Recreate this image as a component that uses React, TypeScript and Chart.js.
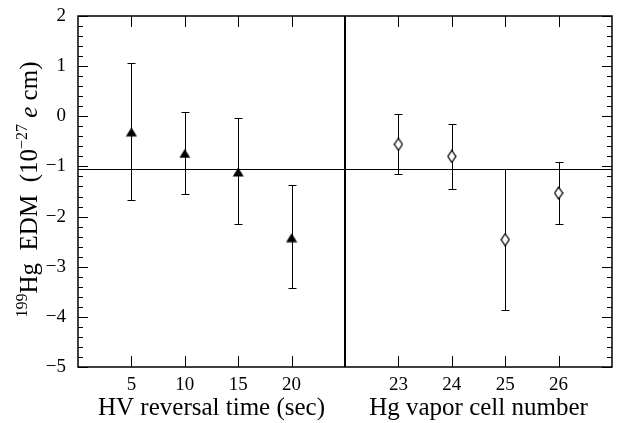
import React, { useEffect, useRef } from 'react';
import { Chart, registerables } from 'chart.js';

Chart.register(...registerables);

// ---- data ----
const hvTimes = [5, 10, 15, 20];
const hvEdm = [-0.31, -0.74, -1.11, -2.42];
const hvErrHigh = [1.06, 0.09, -0.04, -1.37];
const hvErrLow = [-1.67, -1.55, -2.15, -3.43];

const cellNumbers = [23, 24, 25, 26];
const cellEdm = [-0.56, -0.8, -2.46, -1.53];
const cellErrHigh = [0.04, -0.15, -1.06, -0.92];
const cellErrLow = [-1.15, -1.45, -3.86, -2.14];

const meanEdm = -1.05;
const yMin = -5;
const yMax = 2;
const hvRange = [0, 25];
const cellRange = [22, 27];

const xTitleLeft = 'HV reversal time (sec)';
const xTitleRight = 'Hg vapor cell number';

const SERIF = '"Liberation Serif", "Times New Roman", serif';

function makeTriangle(): HTMLCanvasElement {
  const c = document.createElement('canvas');
  c.width = 12;
  c.height = 10;
  const g = c.getContext('2d')!;
  g.fillStyle = '#000';
  g.beginPath();
  g.moveTo(6, 0.5);
  g.lineTo(11.5, 9.5);
  g.lineTo(0.5, 9.5);
  g.closePath();
  g.fill();
  return c;
}

function makeDiamond(): HTMLCanvasElement {
  const c = document.createElement('canvas');
  c.width = 10;
  c.height = 14;
  const g = c.getContext('2d')!;
  g.fillStyle = '#fff';
  g.strokeStyle = '#000';
  g.lineWidth = 1.3;
  g.beginPath();
  g.moveTo(5, 1);
  g.lineTo(9, 7);
  g.lineTo(5, 13);
  g.lineTo(1, 7);
  g.closePath();
  g.fill();
  g.stroke();
  return c;
}

const px = (v: number) => Math.round(v) + 0.5;

const decorPlugin = {
  id: 'decor',
  beforeDatasetsDraw(chart: any) {
    const { ctx, chartArea: a, scales } = chart;
    const y = scales.y;
    ctx.save();
    ctx.strokeStyle = '#000';
    ctx.lineWidth = 1;
    const ym = px(y.getPixelForValue(meanEdm));
    ctx.beginPath();
    ctx.moveTo(a.left, ym);
    ctx.lineTo(a.right, ym);
    ctx.stroke();
    chart.data.datasets.forEach((ds: any, i: number) => {
      const meta = chart.getDatasetMeta(i);
      const xs = meta.xScale;
      ds.data.forEach((p: any, j: number) => {
        const x = px(xs.getPixelForValue(p.x));
        const yh = px(y.getPixelForValue(ds.errHigh[j]));
        const yl = px(y.getPixelForValue(ds.errLow[j]));
        ctx.beginPath();
        ctx.moveTo(x, yh);
        ctx.lineTo(x, yl);
        ctx.moveTo(x - 4, yh);
        ctx.lineTo(x + 4, yh);
        ctx.moveTo(x - 4, yl);
        ctx.lineTo(x + 4, yl);
        ctx.stroke();
      });
    });
    ctx.restore();
  },
  afterDatasetsDraw(chart: any) {
    const { ctx, chartArea: a, scales } = chart;
    const y = scales.y;
    ctx.save();
    ctx.strokeStyle = '#000';
    ctx.lineWidth = 1;
    ctx.beginPath();
    for (let k = 0; k <= (yMax - yMin) * 5; k++) {
      const v = yMin + k * 0.2;
      const yy = px(y.getPixelForValue(v));
      const major = k % 5 === 0;
      const len = major ? 10 : 5;
      ctx.moveTo(a.left, yy);
      ctx.lineTo(a.left + len, yy);
      ctx.moveTo(a.right, yy);
      ctx.lineTo(a.right - len, yy);
    }
    ['x1', 'x2'].forEach((id) => {
      const s = scales[id];
      s.ticks.forEach((t: any) => {
        const xx = px(s.getPixelForValue(t.value));
        ctx.moveTo(xx, a.top);
        ctx.lineTo(xx, a.top + 11);
        ctx.moveTo(xx, a.bottom);
        ctx.lineTo(xx, a.bottom - 11);
      });
    });
    ctx.stroke();
    ctx.lineWidth = 1.5;
    ctx.strokeRect(a.left, a.top, a.right - a.left, a.bottom - a.top);
    ctx.lineWidth = 2;
    const xd = Math.round(scales.x1.right);
    ctx.beginPath();
    ctx.moveTo(xd, a.top);
    ctx.lineTo(xd, a.bottom);
    ctx.stroke();

    // y-axis title with superscripts and italic e
    const pieces = [
      { t: '199', size: 16, italic: false, rise: 10 },
      { t: 'Hg  EDM  (10', size: 25, italic: false, rise: 0 },
      { t: '\u221227', size: 16, italic: false, rise: 10 },
      { t: ' ', size: 25, italic: false, rise: 0 },
      { t: 'e', size: 25, italic: true, rise: 0 },
      { t: ' cm)', size: 25, italic: false, rise: 0 },
    ];
    const fontOf = (p: any) => `${p.italic ? 'italic ' : ''}${p.size}px ${SERIF}`;
    let total = 0;
    pieces.forEach((p) => {
      ctx.font = fontOf(p);
      total += ctx.measureText(p.t).width;
    });
    const cy = (a.top + a.bottom) / 2 - 2;
    const baseX = 37;
    ctx.translate(baseX, cy);
    ctx.rotate(-Math.PI / 2);
    ctx.fillStyle = '#000';
    ctx.textBaseline = 'alphabetic';
    ctx.textAlign = 'left';
    let cx = -total / 2;
    pieces.forEach((p) => {
      ctx.font = fontOf(p);
      ctx.fillText(p.t, cx, -p.rise);
      cx += ctx.measureText(p.t).width;
    });
    ctx.restore();
  },
};

export default function App() {
  const ref = useRef<HTMLCanvasElement>(null);

  useEffect(() => {
    let chart: any = null;
    let cancelled = false;
    const build = () => {
      if (cancelled || !ref.current) return;
      const tri = makeTriangle();
      const dia = makeDiamond();
      const tickFont = { family: SERIF, size: 19 };
      const titleFont = { family: SERIF, size: 25 };
      chart = new Chart(ref.current, {
        type: 'scatter',
        data: {
          datasets: [
            {
              label: 'HV',
              data: hvTimes.map((x, i) => ({ x, y: hvEdm[i] })),
              xAxisID: 'x1',
              yAxisID: 'y',
              pointStyle: tri as any,
              pointRadius: 6,
              errHigh: hvErrHigh,
              errLow: hvErrLow,
            } as any,
            {
              label: 'Cell',
              data: cellNumbers.map((x, i) => ({ x, y: cellEdm[i] })),
              xAxisID: 'x2',
              yAxisID: 'y',
              pointStyle: dia as any,
              pointRadius: 6,
              errHigh: cellErrHigh,
              errLow: cellErrLow,
            } as any,
          ],
        },
        options: {
          animation: false,
          responsive: false,
          events: [],
          layout: { padding: { top: 16, right: 1, left: 0, bottom: 0 } },
          plugins: { legend: { display: false }, tooltip: { enabled: false } },
          scales: {
            y: {
              type: 'linear',
              position: 'left',
              min: yMin,
              max: yMax,
              grid: { display: false, drawTicks: false },
              border: { display: false },
              ticks: {
                stepSize: 1,
                font: tickFont,
                color: '#000',
                padding: 12,
                callback: (v: number) => (v < 0 ? '\u2212' + Math.abs(v) : String(v)),
              },
              afterFit: (s: any) => {
                s.width = 78;
                s.paddingTop = 0;
                s.paddingBottom = 0;
              },
            },
            x1: {
              type: 'linear',
              position: 'bottom',
              stack: 'x',
              stackWeight: 1,
              min: hvRange[0],
              max: hvRange[1],
              grid: { display: false, drawTicks: false },
              border: { display: false },
              ticks: { font: tickFont, color: '#000', padding: 7, maxRotation: 0 },
              afterBuildTicks: (s: any) => {
                s.ticks = hvTimes.map((v) => ({ value: v }));
              },
              title: { display: true, text: xTitleLeft, font: titleFont, color: '#000', padding: { top: 0, bottom: 0 } },
              afterFit: (s: any) => {
                s.height = 56;
                s.paddingLeft = 0;
                s.paddingRight = 0;
              },
            },
            x2: {
              type: 'linear',
              position: 'bottom',
              stack: 'x',
              stackWeight: 1,
              min: cellRange[0],
              max: cellRange[1],
              grid: { display: false, drawTicks: false },
              border: { display: false },
              ticks: { font: tickFont, color: '#000', padding: 7, maxRotation: 0 },
              afterBuildTicks: (s: any) => {
                s.ticks = cellNumbers.map((v) => ({ value: v }));
              },
              title: { display: true, text: xTitleRight, font: titleFont, color: '#000', padding: { top: 0, bottom: 0 } },
              afterFit: (s: any) => {
                s.height = 56;
                s.paddingLeft = 0;
                s.paddingRight = 0;
              },
            },
          },
        } as any,
        plugins: [decorPlugin],
      });
    };
    const fonts: any = (document as any).fonts;
    if (fonts && fonts.load) {
      Promise.all([
        fonts.load(`19px ${SERIF}`),
        fonts.load(`25px ${SERIF}`),
        fonts.load(`italic 25px ${SERIF}`),
      ]).then(build, build);
    } else {
      build();
    }
    return () => {
      cancelled = true;
      if (chart) chart.destroy();
    };
  }, []);

  return (
    <div style={{ position: 'fixed', left: 0, top: 0, width: 619, height: 423, background: '#fff' }}>
      <canvas ref={ref} width={619} height={423} />
    </div>
  );
}
